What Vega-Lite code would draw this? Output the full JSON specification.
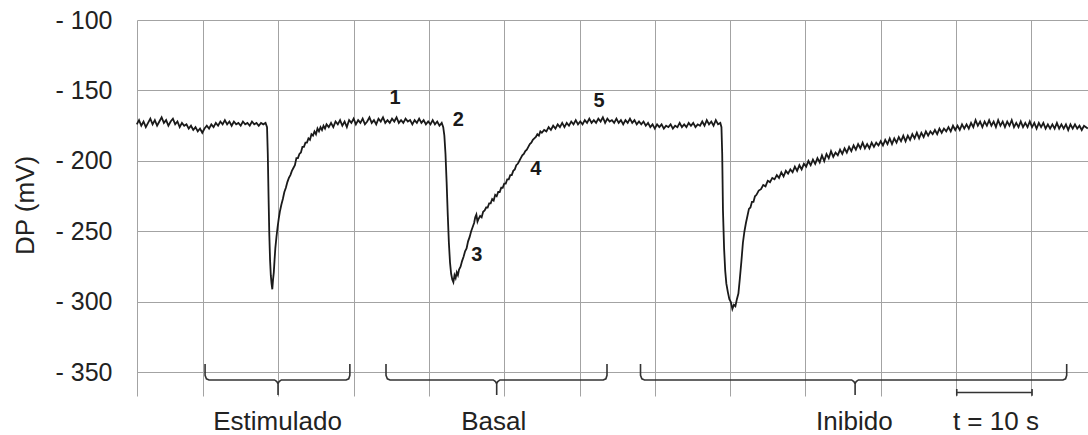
{
"$schema": "https://vega.github.io/schema/vega-lite/v6.json",
"width": 951,
"height": 376,
"autosize": {"type": "none"},
"padding": {"left": 137, "top": 20, "right": 0, "bottom": 39},
"background": "white",
"config": {"view": {"stroke": null}, "font": "Liberation Sans"},
"datasets": {
"trace": [
{"t":1.2,"v":-174},{"t":1.5,"v":-171},{"t":1.8,"v":-175},{"t":2.1,"v":-172},{"t":2.4,"v":-176},{"t":2.7,"v":-173},{"t":3.0,"v":-170},{"t":3.3,"v":-174},{"t":3.6,"v":-171},{"t":3.9,"v":-175},{"t":4.2,"v":-172},{"t":4.5,"v":-169},{"t":4.8,"v":-173},{"t":5.1,"v":-171},{"t":5.4,"v":-175},{"t":5.7,"v":-172},{"t":6.0,"v":-170},{"t":6.3,"v":-174},{"t":6.6,"v":-172},{"t":6.9,"v":-176},{"t":7.2,"v":-173},{"t":7.5,"v":-175},{"t":7.8,"v":-174},{"t":8.1,"v":-177},{"t":8.4,"v":-175},{"t":8.7,"v":-178},{"t":9.0,"v":-176},{"t":9.3,"v":-179},{"t":9.6,"v":-177},{"t":9.9,"v":-180},{"t":10.2,"v":-177},{"t":10.5,"v":-175},{"t":10.8,"v":-177},{"t":11.1,"v":-174},{"t":11.4,"v":-176},{"t":11.7,"v":-173},{"t":12.0,"v":-175},{"t":12.3,"v":-172},{"t":12.6,"v":-174},{"t":12.9,"v":-171},{"t":13.2,"v":-174},{"t":13.5,"v":-172},{"t":13.8,"v":-175},{"t":14.1,"v":-172},{"t":14.4,"v":-174},{"t":14.7,"v":-173},{"t":15.0,"v":-175},{"t":15.3,"v":-172},{"t":15.6,"v":-174},{"t":15.9,"v":-173},{"t":16.2,"v":-175},{"t":16.5,"v":-172},{"t":16.8,"v":-174},{"t":17.1,"v":-173},{"t":17.4,"v":-175},{"t":17.7,"v":-173},{"t":18.0,"v":-174},{"t":18.3,"v":-173},{"t":18.5,"v":-176},
{"t":18.6,"v":-195},{"t":18.7,"v":-225},{"t":18.8,"v":-252},{"t":18.9,"v":-270},{"t":19.0,"v":-281},{"t":19.1,"v":-287},{"t":19.2,"v":-291},{"t":19.3,"v":-284},{"t":19.4,"v":-279},{"t":19.5,"v":-270},{"t":19.6,"v":-262},{"t":19.75,"v":-254},{"t":19.9,"v":-247},{"t":20.05,"v":-241},{"t":20.2,"v":-236},{"t":20.4,"v":-231},{"t":20.6,"v":-227},{"t":20.8,"v":-222},{"t":21.0,"v":-219},{"t":21.2,"v":-215},{"t":21.4,"v":-212},{"t":21.6,"v":-210},{"t":21.8,"v":-207},{"t":22.0,"v":-205},{"t":22.2,"v":-203},{"t":22.4,"v":-198},{"t":22.6,"v":-198},{"t":22.8,"v":-195},{"t":23.0,"v":-194},{"t":23.2,"v":-190},{"t":23.4,"v":-190},{"t":23.6,"v":-187},{"t":23.8,"v":-187},{"t":24.0,"v":-184},{"t":24.2,"v":-185},{"t":24.4,"v":-181},{"t":24.6,"v":-182},{"t":24.8,"v":-179},{"t":25.0,"v":-181},{"t":25.2,"v":-177},{"t":25.4,"v":-179},{"t":25.6,"v":-176},{"t":25.8,"v":-178},{"t":26.0,"v":-175},{"t":26.2,"v":-177},{"t":26.4,"v":-174},{"t":26.7,"v":-176},
{"t":27.0,"v":-173},{"t":27.3,"v":-176},{"t":27.6,"v":-172},{"t":27.9,"v":-174},{"t":28.2,"v":-171},{"t":28.5,"v":-175},{"t":28.8,"v":-172},{"t":29.1,"v":-176},{"t":29.4,"v":-171},{"t":29.7,"v":-173},{"t":30.0,"v":-170},{"t":30.3,"v":-174},{"t":30.6,"v":-171},{"t":30.9,"v":-173},{"t":31.2,"v":-170},{"t":31.5,"v":-174},{"t":31.8,"v":-172},{"t":32.1,"v":-169},{"t":32.4,"v":-173},{"t":32.7,"v":-171},{"t":33.0,"v":-174},{"t":33.3,"v":-170},{"t":33.6,"v":-172},{"t":33.9,"v":-169},{"t":34.2,"v":-173},{"t":34.5,"v":-171},{"t":34.8,"v":-173},{"t":35.1,"v":-170},{"t":35.4,"v":-172},{"t":35.7,"v":-169},{"t":36.0,"v":-173},{"t":36.3,"v":-171},{"t":36.6,"v":-173},{"t":36.9,"v":-170},{"t":37.2,"v":-172},{"t":37.5,"v":-171},{"t":37.8,"v":-174},{"t":38.1,"v":-171},{"t":38.4,"v":-173},{"t":38.7,"v":-170},{"t":39.0,"v":-173},{"t":39.3,"v":-171},{"t":39.6,"v":-174},{"t":39.9,"v":-172},{"t":40.2,"v":-174},{"t":40.5,"v":-171},{"t":40.8,"v":-174},{"t":41.1,"v":-172},{"t":41.4,"v":-175},{"t":41.7,"v":-173},{"t":41.9,"v":-176},
{"t":42.05,"v":-182},{"t":42.2,"v":-195},{"t":42.35,"v":-215},{"t":42.5,"v":-238},{"t":42.65,"v":-258},{"t":42.8,"v":-272},{"t":42.95,"v":-280},{"t":43.1,"v":-284},{"t":43.25,"v":-286},{"t":43.4,"v":-281},{"t":43.55,"v":-283},{"t":43.7,"v":-279},{"t":43.85,"v":-281},{"t":44.0,"v":-277},{"t":44.2,"v":-275},{"t":44.4,"v":-271},{"t":44.6,"v":-268},{"t":44.8,"v":-264},{"t":45.0,"v":-262},{"t":45.2,"v":-257},{"t":45.4,"v":-254},{"t":45.6,"v":-250},{"t":45.8,"v":-247},{"t":46.0,"v":-244},{"t":46.15,"v":-240},{"t":46.3,"v":-238},{"t":46.45,"v":-243},{"t":46.6,"v":-241},{"t":46.8,"v":-239},{"t":47.0,"v":-240},{"t":47.2,"v":-236},{"t":47.4,"v":-235},{"t":47.6,"v":-233},{"t":47.8,"v":-233},{"t":48.0,"v":-230},{"t":48.2,"v":-230},{"t":48.4,"v":-227},{"t":48.6,"v":-228},{"t":48.8,"v":-224},{"t":49.0,"v":-225},{"t":49.2,"v":-222},{"t":49.4,"v":-222},{"t":49.6,"v":-219},{"t":49.8,"v":-219},{"t":50.0,"v":-216},{"t":50.2,"v":-216},{"t":50.4,"v":-213},{"t":50.6,"v":-213},{"t":50.8,"v":-210},{"t":51.0,"v":-210},{"t":51.2,"v":-207},{"t":51.4,"v":-206},{"t":51.6,"v":-203},{"t":51.8,"v":-202},{"t":52.0,"v":-200},{"t":52.2,"v":-198},{"t":52.4,"v":-196},{"t":52.6,"v":-195},{"t":52.8,"v":-193},{"t":53.0,"v":-192},{"t":53.2,"v":-190},{"t":53.4,"v":-188},{"t":53.6,"v":-187},{"t":53.8,"v":-185},{"t":54.0,"v":-184},{"t":54.2,"v":-183},{"t":54.4,"v":-181},{"t":54.6,"v":-182},{"t":54.8,"v":-179},{"t":55.0,"v":-180},{"t":55.3,"v":-178},{"t":55.6,"v":-179},{"t":55.9,"v":-176},{"t":56.2,"v":-178},{"t":56.5,"v":-175},{"t":56.8,"v":-177},{"t":57.1,"v":-174},{"t":57.4,"v":-176},{"t":57.7,"v":-173},{"t":58.0,"v":-176},{"t":58.3,"v":-173},{"t":58.6,"v":-175},{"t":58.9,"v":-172},{"t":59.2,"v":-174},{"t":59.5,"v":-171},{"t":59.8,"v":-174},{"t":60.1,"v":-172},{"t":60.4,"v":-174},{"t":60.7,"v":-171},{"t":61.0,"v":-173},{"t":61.3,"v":-170},{"t":61.6,"v":-173},{"t":61.9,"v":-171},{"t":62.2,"v":-173},{"t":62.5,"v":-170},{"t":62.8,"v":-172},{"t":63.1,"v":-169},{"t":63.4,"v":-173},{"t":63.7,"v":-170},{"t":64.0,"v":-172},{"t":64.3,"v":-171},{"t":64.6,"v":-173},{"t":64.9,"v":-170},{"t":65.2,"v":-173},{"t":65.5,"v":-171},{"t":65.8,"v":-174},{"t":66.1,"v":-171},{"t":66.4,"v":-173},{"t":66.7,"v":-170},{"t":67.0,"v":-173},{"t":67.3,"v":-171},{"t":67.6,"v":-174},{"t":67.9,"v":-172},{"t":68.2,"v":-174},{"t":68.5,"v":-172},{"t":68.8,"v":-175},{"t":69.1,"v":-173},{"t":69.4,"v":-176},{"t":69.7,"v":-174},{"t":70.0,"v":-177},{"t":70.3,"v":-174},{"t":70.6,"v":-176},{"t":70.9,"v":-174},{"t":71.2,"v":-177},{"t":71.5,"v":-175},{"t":71.8,"v":-176},{"t":72.1,"v":-174},{"t":72.4,"v":-177},{"t":72.7,"v":-175},{"t":73.0,"v":-176},{"t":73.3,"v":-173},{"t":73.6,"v":-176},{"t":73.9,"v":-174},{"t":74.2,"v":-176},{"t":74.5,"v":-173},{"t":74.8,"v":-175},{"t":75.1,"v":-173},{"t":75.4,"v":-176},{"t":75.7,"v":-174},{"t":76.0,"v":-175},{"t":76.3,"v":-172},{"t":76.6,"v":-175},{"t":76.9,"v":-171},{"t":77.2,"v":-174},{"t":77.5,"v":-172},{"t":77.8,"v":-175},{"t":78.1,"v":-171},{"t":78.4,"v":-174},{"t":78.7,"v":-173},{"t":78.85,"v":-176},
{"t":78.95,"v":-195},{"t":79.05,"v":-235},{"t":79.2,"v":-262},{"t":79.35,"v":-278},{"t":79.5,"v":-287},{"t":79.7,"v":-293},{"t":79.9,"v":-298},{"t":80.1,"v":-300},{"t":80.3,"v":-305},{"t":80.5,"v":-302},{"t":80.7,"v":-303},{"t":80.9,"v":-298},{"t":81.1,"v":-294},{"t":81.3,"v":-283},{"t":81.5,"v":-271},{"t":81.7,"v":-258},{"t":81.9,"v":-250},{"t":82.1,"v":-244},{"t":82.3,"v":-239},{"t":82.5,"v":-234},{"t":82.7,"v":-233},{"t":82.9,"v":-229},{"t":83.1,"v":-229},{"t":83.3,"v":-225},{"t":83.5,"v":-224},{"t":83.8,"v":-221},{"t":84.1,"v":-220},{"t":84.4,"v":-217},{"t":84.7,"v":-218},{"t":85.0,"v":-214},{"t":85.3,"v":-215},{"t":85.6,"v":-212},{"t":85.9,"v":-213},{"t":86.2,"v":-210},{"t":86.5,"v":-212},{"t":86.8,"v":-208},{"t":87.1,"v":-211},{"t":87.4,"v":-207},{"t":87.7,"v":-209},{"t":88.0,"v":-206},{"t":88.3,"v":-208},{"t":88.6,"v":-204},{"t":88.9,"v":-207},{"t":89.2,"v":-203},{"t":89.5,"v":-206},{"t":89.8,"v":-202},{"t":90.1,"v":-204},{"t":90.4,"v":-200},{"t":90.7,"v":-203},{"t":91.0,"v":-199},{"t":91.3,"v":-202},{"t":91.6,"v":-198},{"t":91.9,"v":-201},{"t":92.2,"v":-196},{"t":92.5,"v":-200},{"t":92.8,"v":-195},{"t":93.1,"v":-198},{"t":93.4,"v":-193},{"t":93.7,"v":-197},{"t":94.0,"v":-194},{"t":94.3,"v":-196},{"t":94.6,"v":-192},{"t":94.9,"v":-195},{"t":95.2,"v":-191},{"t":95.5,"v":-194},{"t":95.8,"v":-190},{"t":96.1,"v":-193},{"t":96.4,"v":-189},{"t":96.7,"v":-192},{"t":97.0,"v":-188},{"t":97.3,"v":-191},{"t":97.6,"v":-187},{"t":97.9,"v":-191},
{"t":98.2,"v":-188},{"t":98.5,"v":-191},{"t":98.8,"v":-187},{"t":99.1,"v":-190},{"t":99.4,"v":-187},{"t":99.7,"v":-189},{"t":100.0,"v":-186},{"t":100.3,"v":-189},{"t":100.6,"v":-185},{"t":100.9,"v":-188},{"t":101.2,"v":-184},{"t":101.5,"v":-188},{"t":101.8,"v":-184},{"t":102.1,"v":-187},{"t":102.4,"v":-183},{"t":102.7,"v":-186},{"t":103.0,"v":-182},{"t":103.3,"v":-186},{"t":103.6,"v":-182},{"t":103.9,"v":-185},{"t":104.2,"v":-181},{"t":104.5,"v":-184},{"t":104.8,"v":-180},{"t":105.1,"v":-184},{"t":105.4,"v":-180},{"t":105.7,"v":-183},{"t":106.0,"v":-179},{"t":106.3,"v":-182},{"t":106.6,"v":-179},{"t":106.9,"v":-181},{"t":107.2,"v":-178},{"t":107.5,"v":-181},{"t":107.8,"v":-177},{"t":108.1,"v":-180},{"t":108.4,"v":-177},{"t":108.7,"v":-179},{"t":109.0,"v":-176},{"t":109.3,"v":-179},{"t":109.6,"v":-175},{"t":109.9,"v":-178},{"t":110.2,"v":-175},{"t":110.5,"v":-178},{"t":110.8,"v":-174},{"t":111.1,"v":-177},{"t":111.4,"v":-174},{"t":111.7,"v":-177},{"t":112.0,"v":-173},{"t":112.3,"v":-176},{"t":112.6,"v":-171},{"t":112.9,"v":-175},{"t":113.2,"v":-172},{"t":113.5,"v":-176},{"t":113.8,"v":-172},{"t":114.1,"v":-175},{"t":114.4,"v":-171},{"t":114.7,"v":-175},{"t":115.0,"v":-172},{"t":115.3,"v":-176},{"t":115.6,"v":-171},{"t":115.9,"v":-175},{"t":116.2,"v":-172},{"t":116.5,"v":-176},{"t":116.8,"v":-172},{"t":117.1,"v":-175},{"t":117.4,"v":-171},{"t":117.7,"v":-176},{"t":118.0,"v":-173},{"t":118.3,"v":-176},{"t":118.6,"v":-172},{"t":118.9,"v":-176},{"t":119.2,"v":-173},{"t":119.5,"v":-176},{"t":119.8,"v":-172},{"t":120.1,"v":-176},{"t":120.4,"v":-173},{"t":120.7,"v":-177},{"t":121.0,"v":-173},{"t":121.3,"v":-176},{"t":121.6,"v":-173},{"t":121.9,"v":-177},{"t":122.2,"v":-174},{"t":122.5,"v":-177},{"t":122.8,"v":-174},{"t":123.1,"v":-177},{"t":123.4,"v":-173},{"t":123.7,"v":-177},{"t":124.0,"v":-174},{"t":124.3,"v":-177},{"t":124.6,"v":-174},{"t":124.9,"v":-178},{"t":125.2,"v":-174},{"t":125.5,"v":-177},{"t":125.8,"v":-174},{"t":126.1,"v":-177},{"t":126.4,"v":-175},{"t":126.7,"v":-178},{"t":127.0,"v":-175},{"t":127.5,"v":-177}
],
"brackets": [
{"g":"a","o":1,"t":10.27,"v":-344},{"g":"a","o":2,"t":10.27,"v":-352},{"g":"a","o":3,"t":10.45,"v":-354.5},{"g":"a","o":4,"t":10.8,"v":-355.3},{"g":"a","o":5,"t":19.5,"v":-355.3},{"g":"a","o":6,"t":19.8,"v":-356.5},{"g":"a","o":7,"t":19.96,"v":-358},{"g":"a","o":8,"t":19.96,"v":-366},{"g":"a","o":9,"t":19.96,"v":-358},{"g":"a","o":10,"t":20.1,"v":-356.5},{"g":"a","o":11,"t":20.4,"v":-355.3},{"g":"a","o":12,"t":29.0,"v":-355.3},{"g":"a","o":13,"t":29.35,"v":-354.5},{"g":"a","o":14,"t":29.5,"v":-352},{"g":"a","o":15,"t":29.5,"v":-344},
{"g":"b","o":1,"t":34.3,"v":-344},{"g":"b","o":2,"t":34.3,"v":-352},{"g":"b","o":3,"t":34.48,"v":-354.5},{"g":"b","o":4,"t":34.83,"v":-355.3},{"g":"b","o":5,"t":48.54,"v":-355.3},{"g":"b","o":6,"t":48.84,"v":-356.5},{"g":"b","o":7,"t":49.0,"v":-358},{"g":"b","o":8,"t":49.0,"v":-366},{"g":"b","o":9,"t":49.0,"v":-358},{"g":"b","o":10,"t":49.14,"v":-356.5},{"g":"b","o":11,"t":49.44,"v":-355.3},{"g":"b","o":12,"t":63.15,"v":-355.3},{"g":"b","o":13,"t":63.5,"v":-354.5},{"g":"b","o":14,"t":63.65,"v":-352},{"g":"b","o":15,"t":63.65,"v":-344},
{"g":"c","o":1,"t":68.1,"v":-344},{"g":"c","o":2,"t":68.1,"v":-352},{"g":"c","o":3,"t":68.28,"v":-354.5},{"g":"c","o":4,"t":68.63,"v":-355.3},{"g":"c","o":5,"t":96.14,"v":-355.3},{"g":"c","o":6,"t":96.44,"v":-356.5},{"g":"c","o":7,"t":96.6,"v":-358},{"g":"c","o":8,"t":96.6,"v":-366},{"g":"c","o":9,"t":96.6,"v":-358},{"g":"c","o":10,"t":96.74,"v":-356.5},{"g":"c","o":11,"t":97.04,"v":-355.3},{"g":"c","o":12,"t":124.2,"v":-355.3},{"g":"c","o":13,"t":124.55,"v":-354.5},{"g":"c","o":14,"t":124.7,"v":-352},{"g":"c","o":15,"t":124.7,"v":-344},
{"g":"d","o":1,"t":110.1,"v":-361.7},{"g":"d","o":2,"t":110.1,"v":-366.5},{"g":"d","o":3,"t":110.1,"v":-364.2},{"g":"d","o":4,"t":120.1,"v":-364.2},{"g":"d","o":5,"t":120.1,"v":-361.7},{"g":"d","o":6,"t":120.1,"v":-366.5}
],
"nums": [
{"label":"1","t":35.5,"v":-155},{"label":"2","t":43.9,"v":-171},{"label":"3","t":46.35,"v":-266.7},{"label":"4","t":54.2,"v":-205.7},{"label":"5","t":62.6,"v":-157.4}
],
"groups": [
{"label":"Estimulado","t":19.9,"v":-384.8},{"label":"Basal","t":48.6,"v":-384.8},{"label":"Inibido","t":96.5,"v":-384.8},{"label":"t = 10 s","t":115.3,"v":-384.8}
]
},
"encoding": {
"x": {"field":"t","type":"quantitative","scale":{"domain":[1.23,127.53],"nice":false,"zero":false},
"axis":{"values":[10,20,30,40,50,60,70,80,90,100,110,120],"grid":true,"gridColor":"#a3a3a3","gridWidth":1,"labels":false,"ticks":false,"domain":false,"title":null}},
"y": {"field":"v","type":"quantitative","scale":{"domain":[-366.7,-100],"nice":false,"zero":false},
"axis":{"values":[-100,-150,-200,-250,-300,-350],"grid":true,"gridColor":"#a3a3a3","gridWidth":1,"ticks":false,"tickSize":0,"domain":true,"domainColor":"#a3a3a3","domainWidth":1,
"labelExpr":"'- ' + abs(datum.value)","labelFontSize":25,"labelColor":"#222222","labelPadding":25,"labelFont":"Liberation Sans",
"title":"DP (mV)","titleFontSize":26,"titleFontWeight":"normal","titleColor":"#222222","titleFont":"Liberation Sans","titleX":-112,"titleY":185,"titleAngle":-90,"titleAlign":"center","titleBaseline":"middle"}}
},
"layer": [
{"data":{"name":"trace"},"mark":{"type":"line","color":"#1a1a1a","strokeWidth":1.8,"interpolate":"linear"}},
{"data":{"name":"brackets"},"mark":{"type":"line","color":"#333333","strokeWidth":1.6},"encoding":{"detail":{"field":"g"},"order":{"field":"o","type":"quantitative"}}},
{"data":{"name":"nums"},"mark":{"type":"text","fontSize":20,"fontWeight":"bold","color":"#1a1a1a","font":"Liberation Sans","align":"center","baseline":"middle"},"encoding":{"text":{"field":"label"}}},
{"data":{"name":"groups"},"mark":{"type":"text","fontSize":26,"color":"#222222","font":"Liberation Sans","align":"center","baseline":"middle"},"encoding":{"text":{"field":"label"}}}
]
}
